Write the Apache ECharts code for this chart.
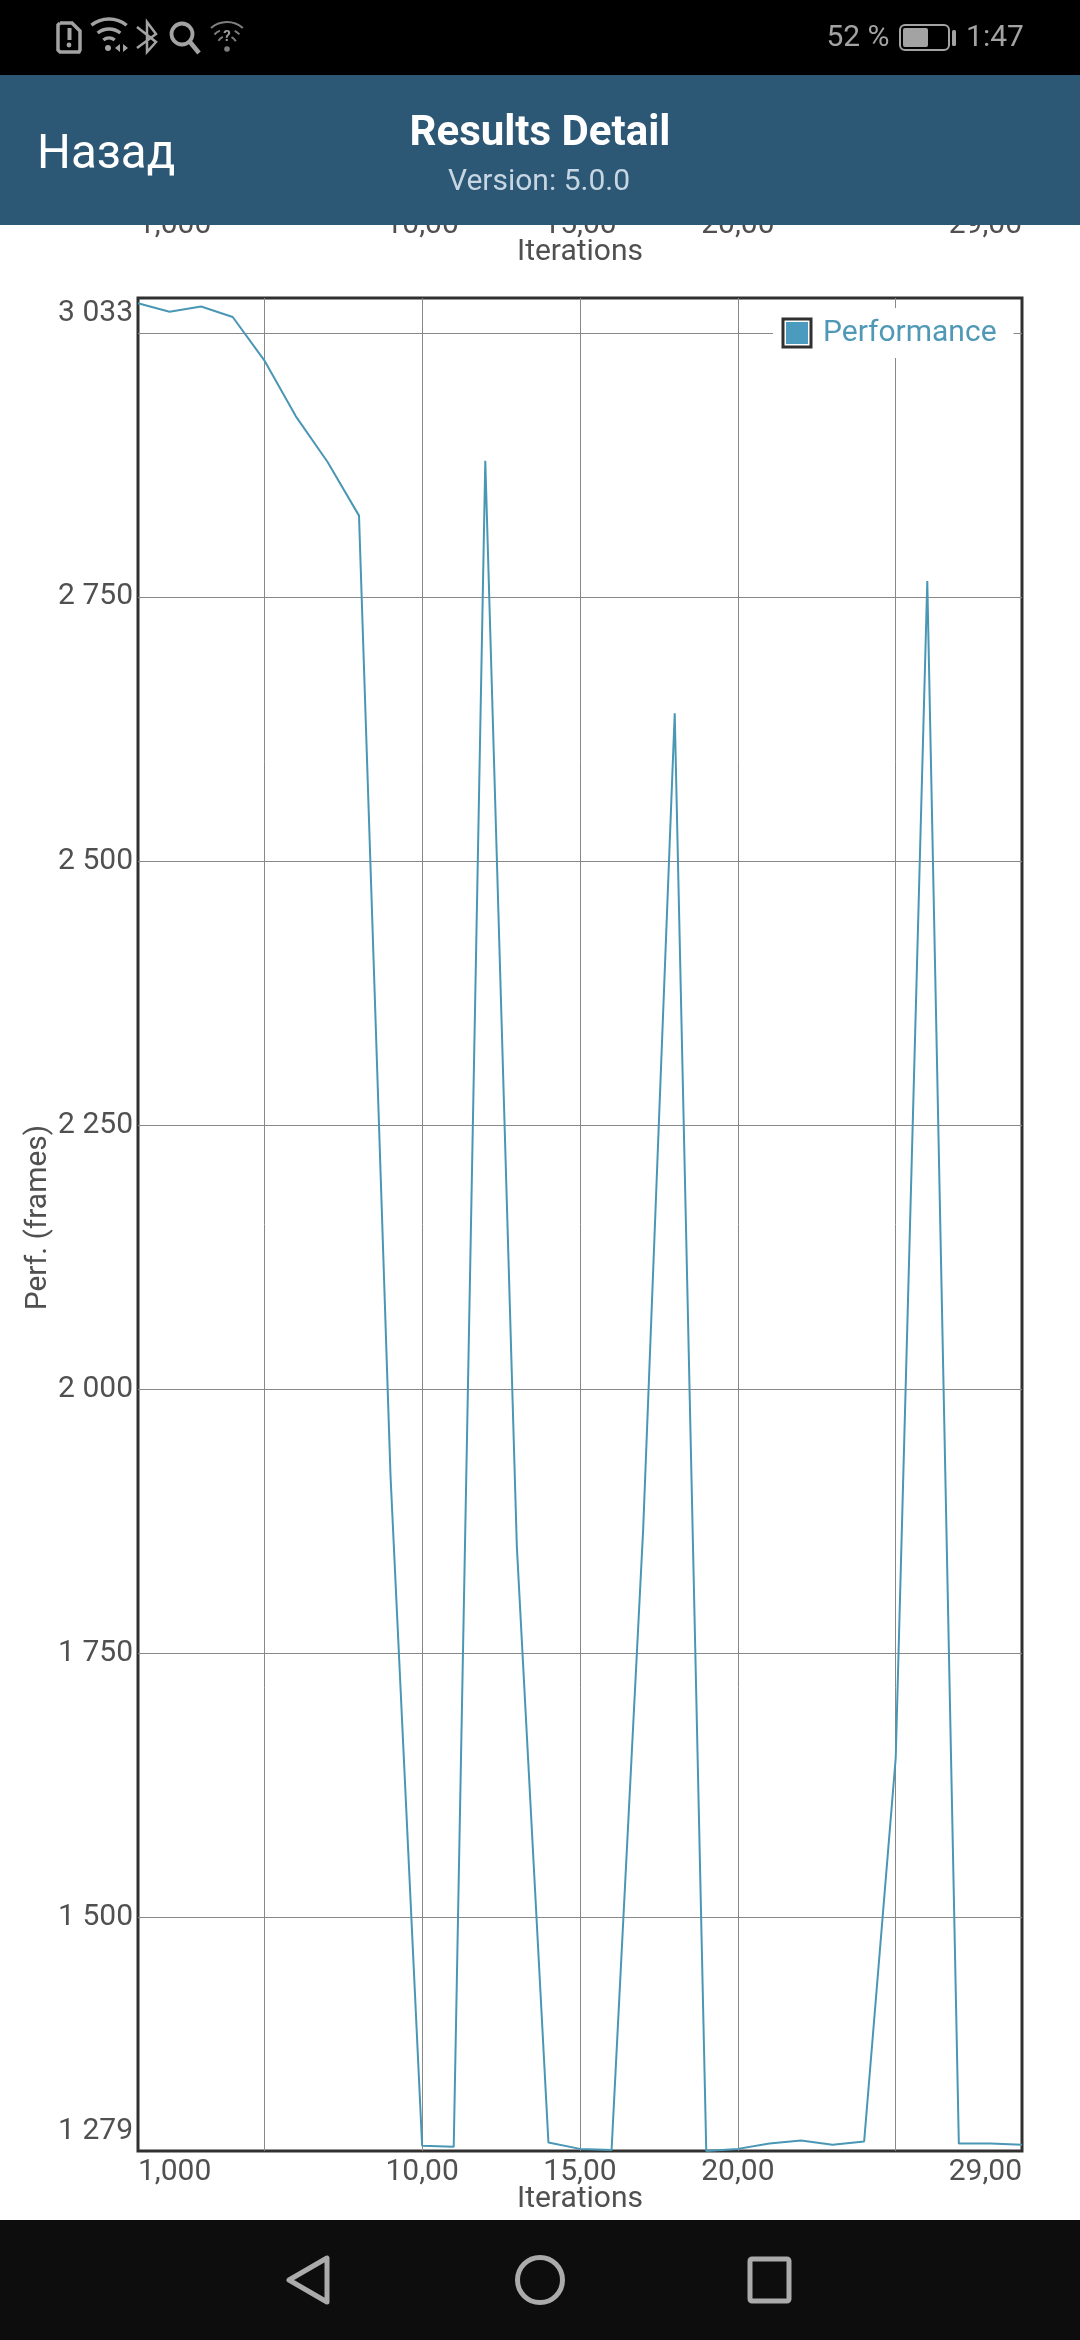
<!DOCTYPE html>
<html>
<head>
<meta charset="utf-8">
<style>html,body{margin:0;padding:0;background:#fff}#c{width:1080px;height:2340px}</style>
<script src="https://cdn.jsdelivr.net/npm/echarts@6/dist/echarts.min.js"></script>
</head>
<body>
<div id="c"></div>
<script>
const iterations = [1,2,3,4,5,6,7,8,9,10,11,12,13,14,15,16,17,18,19,20,21,22,23,24,25,26,27,28,29];
const performance_ = [3028,3020,3025,3015,2974,2921,2878,2827,1917,1284,1283,2879,1851,1287,1281,1280,1867,2640,1279,1281,1286,1289,1285,1288,1651,2765,1286,1286,1285];
const seriesName = 'Performance';
const xLabelValues = [1,10,15,20,29];
const xLabelTexts = ['1,000','10,00','15,00','20,00','29,00'];
const xGridValues = [5,10,15,20,25];
const yLabelValues = [1279,1500,1750,2000,2250,2500,2750,3033];
const yLabelTexts = ['{low|1 279}','1 500','1 750','2 000','2 250','2 500','2 750','3 033'];
const yGridValues = [1500,1750,2000,2250,2500,2750,3000];
const yMin = 1279, yMax = 3033, xMin = 1, xMax = 29;

const FONT = 'Roboto';
const TICK = '#505050', GRID = '#888888', LINE = '#4a97b5', FRAME = '#303030', CHROME = '#a3a3a3';

function lookup(values, texts){ return v => { const i = values.indexOf(v); return i < 0 ? '' : texts[i]; }; }

function xAxisOpt(gridIndex, withSplit){
  return {
    type:'value', gridIndex, min:xMin, max:xMax,
    name:'Iterations', nameLocation:'middle', nameGap:33, nameMoveOverlap:false,
    nameTextStyle:{fontFamily:FONT,fontSize:30,color:TICK},
    axisLine:{show:false}, 
    axisTick:{show:false, customValues:xGridValues},
    splitLine:{show:withSplit, lineStyle:{color:GRID,width:1}},
    axisLabel:{
      customValues:xLabelValues, formatter:lookup(xLabelValues,xLabelTexts),
      fontFamily:FONT,fontSize:30,color:TICK,margin:6,
      alignMinLabel:'left',alignMaxLabel:'right',hideOverlap:false
    }
  };
}

const stroke = (c,w)=>({stroke:c,lineWidth:w,fill:'none'});
const Z = 100;
const txt = (x,y,text,font,fill,align)=>({type:'text',z:Z+1,style:{x,y,text,font,fill,align:align||'center',verticalAlign:'middle'}});
const graphics = [
  // status bar
  {type:'rect',z:Z,shape:{x:0,y:0,width:1080,height:75},style:{fill:'#000'}},
  // header
  {type:'rect',z:Z,shape:{x:0,y:75,width:1080,height:150},style:{fill:'#2c5775'}},
  // nav bar
  {type:'rect',z:Z,shape:{x:0,y:2220,width:1080,height:120},style:{fill:'#0d0d0d'}},
  txt(37,156,'Назад','47.5px '+FONT,'#fff','left'),
  txt(540,134,'Results Detail','bold 42px '+FONT,'#fff'),
  txt(539,182,'Version: 5.0.0','30px '+FONT,'#c6d6e2'),
  txt(858,38,'52 %','30px '+FONT,CHROME),
  txt(995,38,'1:47','30px '+FONT,CHROME),
  // battery
  {type:'rect',z:Z+1,shape:{x:900,y:25,width:49,height:25,r:5},style:stroke(CHROME,2)},
  {type:'rect',z:Z+1,shape:{x:903,y:28,width:25,height:19,r:2},style:{fill:CHROME}},
  {type:'rect',z:Z+1,shape:{x:952,y:30,width:4,height:16,r:1.5},style:{fill:CHROME}},
  // sim alert
  {type:'polyline',z:Z+1,shape:{points:[[60,23],[72,23],[80,31],[80,50],[79,52],[60,52],[58,50],[58,25],[60,23]]},style:stroke(CHROME,3.5)},
  {type:'rect',z:Z+1,shape:{x:67.5,y:28,width:4,height:12},style:{fill:CHROME}},
  {type:'circle',z:Z+1,shape:{cx:69,cy:45,r:2.4},style:{fill:CHROME}},
  // wifi
  {type:'arc',z:Z+1,shape:{cx:109,cy:47,r:28,startAngle:-2.25,endAngle:-0.89},style:stroke(CHROME,3.5)},
  {type:'arc',z:Z+1,shape:{cx:109,cy:47,r:18,startAngle:-2.25,endAngle:-0.89},style:stroke(CHROME,3.5)},
  {type:'arc',z:Z+1,shape:{cx:109,cy:47,r:9,startAngle:-2.25,endAngle:-0.89},style:stroke(CHROME,3.5)},
  {type:'circle',z:Z+1,shape:{cx:108,cy:48,r:3},style:{fill:CHROME}},
  {type:'polygon',z:Z+1,shape:{points:[[120,44],[120,52],[115,48]]},style:{fill:CHROME}},
  {type:'polygon',z:Z+1,shape:{points:[[123,44],[123,52],[128,48]]},style:{fill:CHROME}},
  // bluetooth
  {type:'polyline',z:Z+1,shape:{points:[[137,27],[156,42],[147,52],[147,22],[156,34],[137,48]]},style:stroke(CHROME,2.5)},
  // search
  {type:'circle',z:Z+1,shape:{cx:182,cy:34,r:10.5},style:stroke(CHROME,3.8)},
  {type:'line',z:Z+1,shape:{x1:190,y1:42,x2:199,y2:53},style:{stroke:CHROME,lineWidth:4.5}},
  // wifi with question mark
  {type:'arc',z:Z+1,shape:{cx:227,cy:46,r:24,startAngle:-2.3,endAngle:-0.85},style:stroke('#7e7e7e',2)},
  {type:'arc',z:Z+1,shape:{cx:227,cy:46,r:17,startAngle:-2.4,endAngle:-2.0},style:stroke('#7e7e7e',2)},
  {type:'arc',z:Z+1,shape:{cx:227,cy:46,r:17,startAngle:-1.1,endAngle:-0.75},style:stroke('#7e7e7e',2)},
  {type:'arc',z:Z+1,shape:{cx:227,cy:46,r:10,startAngle:-2.6,endAngle:-2.0},style:stroke('#7e7e7e',2)},
  {type:'arc',z:Z+1,shape:{cx:227,cy:46,r:10,startAngle:-1.1,endAngle:-0.5},style:stroke('#7e7e7e',2)},
  txt(227,37,'?','bold 15px '+FONT,'#9a9a9a'),
  {type:'circle',z:Z+1,shape:{cx:227,cy:49,r:2.8},style:{fill:'#7e7e7e'}},
  // nav icons
  {type:'polygon',z:Z+1,shape:{points:[[327,2258],[327,2302],[289,2280]]},style:{stroke:'#ababab',lineWidth:5,fill:'none',lineJoin:'round'}},
  {type:'circle',z:Z+1,shape:{cx:540,cy:2280,r:22.5},style:stroke('#ababab',5)},
  {type:'rect',z:Z+1,shape:{x:750,y:2259,width:39,height:42,r:2},style:stroke('#ababab',5)},
  // legend frame
  {type:'rect',z:50,shape:{x:783,y:319,width:28,height:28},style:stroke(FRAME,3)}
];

const chart = echarts.init(document.getElementById('c'),null,{renderer:'canvas',width:1080,height:2340});
chart.setOption({
  backgroundColor:'#fff',
  animation:false,
  grid:[
    {left:138,right:58,top:298,bottom:189,show:true,borderColor:FRAME,borderWidth:3,backgroundColor:'#fff',containLabel:false},
    {left:138,right:58,top:100,height:104,show:false}
  ],
  legend:{
    show:true,left:773,top:308,padding:[10,17,10,13],backgroundColor:'#fff',z:10,
    itemWidth:22,itemHeight:22,
    data:[{name:seriesName,icon:'rect',itemStyle:{color:'#4a9bbd',borderWidth:0}}],
    textStyle:{fontFamily:FONT,fontSize:30,color:'#4f99b6',padding:[0,0,0,10]}
  },
  xAxis:[xAxisOpt(0,true),xAxisOpt(1,false)],
  yAxis:[
    {
      type:'value',gridIndex:0,min:yMin,max:yMax,
      name:'Perf. (frames)',nameLocation:'middle',nameGap:85,nameRotate:90,nameMoveOverlap:false,
      nameTextStyle:{fontFamily:FONT,fontSize:30,color:TICK,padding:[0,0,0,14]},
      axisLine:{show:false},
      axisTick:{show:false,customValues:yGridValues},
      splitLine:{show:true,lineStyle:{color:GRID,width:1}},
      axisLabel:{
        customValues:yLabelValues,formatter:lookup(yLabelValues,yLabelTexts),
        fontFamily:FONT,fontSize:30,color:TICK,margin:5,
        verticalAlignMinLabel:'bottom',verticalAlignMaxLabel:'top',hideOverlap:false,
        rich:{low:{padding:[0,0,5,0],fontFamily:FONT,fontSize:30,color:TICK}}
      }
    },
    {type:'value',gridIndex:1,min:0,max:1,show:false}
  ],
  series:[{
    name:seriesName,type:'line',xAxisIndex:0,yAxisIndex:0,
    data:iterations.map((x,i)=>[x,performance_[i]]),
    showSymbol:false,symbol:'none',smooth:false,
    lineStyle:{color:LINE,width:2},itemStyle:{color:LINE},z:5
  }],
  graphic:{elements:graphics}
});
</script>
</body>
</html>
